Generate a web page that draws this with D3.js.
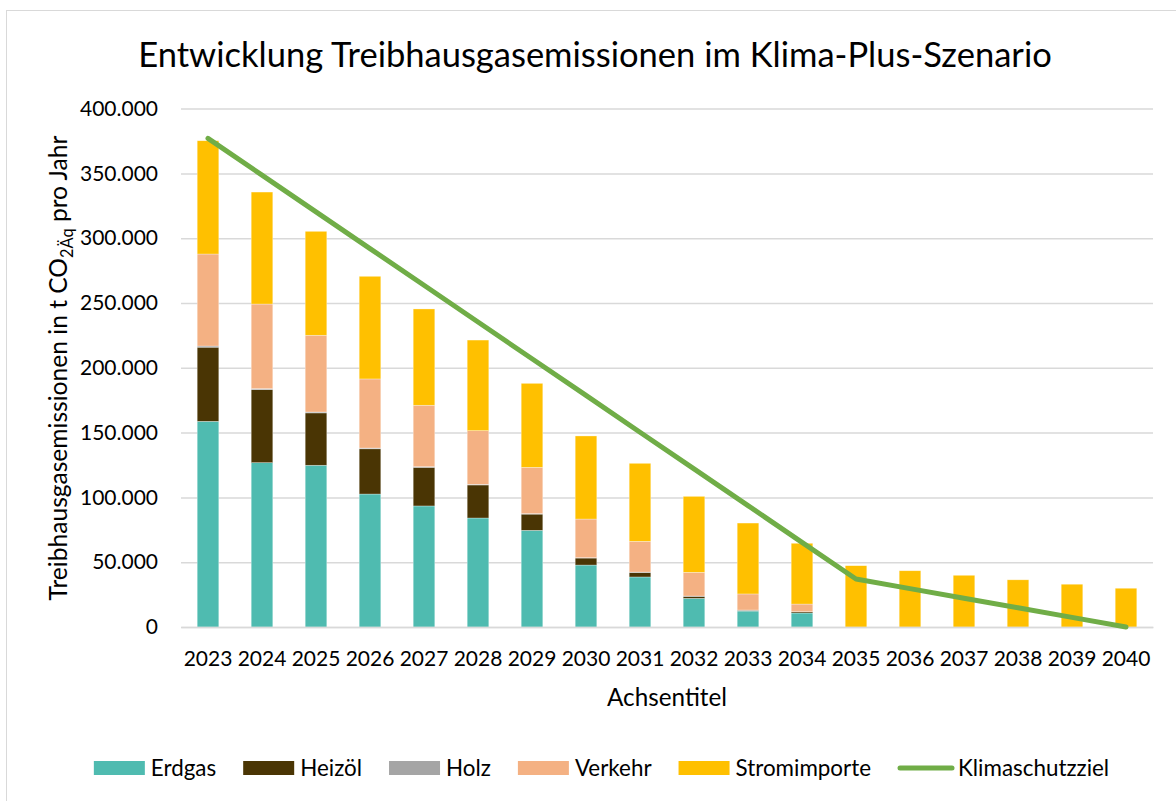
<!DOCTYPE html>
<html>
<head>
<meta charset="utf-8">
<script src="https://cdn.jsdelivr.net/npm/d3@7"></script>
<style>
  html, body { margin: 0; padding: 0; background: #fff; }
  svg { display: block; }
  text { font-family: Lato, "Open Sans", sans-serif; fill: #000; }
</style>
</head>
<body>
<svg id="chart" width="1176" height="801"></svg>
<script>
const years = ["2023","2024","2025","2026","2027","2028","2029","2030","2031","2032","2033","2034","2035","2036","2037","2038","2039","2040"];
const erdgas        = [158700,126800,124800,102600,93400,84100,74600,47800,38600,22100,12300,10800,0,0,0,0,0,0];
const heizoel       = [57200,56300,40400,34900,29800,25500,12500,5400,3500,1600,600,900,0,0,0,0,0,0];
const holz          = [900,800,700,600,500,500,400,300,300,200,200,100,0,0,0,0,0,0];
const verkehr       = [71000,65300,59200,53300,47400,41400,35700,29800,23700,18300,12400,5900,0,0,0,0,0,0];
const stromimporte  = [87400,86400,80200,79200,74300,69900,64800,64100,60200,58600,54700,46900,47300,43400,39900,36400,33000,29900];
const klimaschutzziel = [377000,348700,320300,292000,263700,235300,207000,178700,150300,122000,93700,65300,37000,29600,22200,14800,7400,0];
const yTicks = [0,50000,100000,150000,200000,250000,300000,350000,400000];
const seriesNames = ["Erdgas","Heizöl","Holz","Verkehr","Stromimporte"];
const seriesColors = ["#4fbbb0","#4a3504","#a5a5a5","#f4b183","#ffc000"];
const lineName = "Klimaschutzziel";
const lineColor = "#70ad47";
const titleText = "Entwicklung Treibhausgasemissionen im Klima-Plus-Szenario";
const xTitleText = "Achsentitel";

const svg = d3.select("#chart");
const plot = {left: 181, right: 1153, top: 108.6, bottom: 627};

function fitWidth(sel, base, target) {
  sel.attr("font-size", base);
  const w = sel.node().getComputedTextLength();
  sel.attr("font-size", base * target / w);
}

// frame
svg.append("rect").attr("x", 6.5).attr("y", 10.5).attr("width", 1200).attr("height", 900)
  .attr("fill", "#fff").attr("stroke", "#d9d9d9").attr("stroke-width", 1);

const x = d3.scaleBand().domain(years).range([plot.left, plot.right]).paddingInner(0.6).paddingOuter(0.3);
const y = d3.scaleLinear().domain([0, 400000]).range([plot.bottom, plot.top]);

const de = d3.formatLocale({decimal: ",", thousands: ".", grouping: [3], currency: ["", " €"]});
const fmt = de.format(",d");

// y axis with gridlines
const yAxis = svg.append("g").attr("transform", `translate(${plot.left},0)`)
  .call(d3.axisLeft(y).tickValues(yTicks).tickFormat(fmt).tickSizeInner(-(plot.right - plot.left)).tickSizeOuter(0).tickPadding(23));
yAxis.select(".domain").remove();
yAxis.selectAll(".tick line").attr("stroke", "#d9d9d9").attr("stroke-width", 1.5);
yAxis.selectAll(".tick text").attr("font-size", 21).attr("font-family", "Lato").attr("fill", "#000");

// stacked bars
const table = years.map((yr, i) => ({year: yr, Erdgas: erdgas[i], "Heizöl": heizoel[i], Holz: holz[i], Verkehr: verkehr[i], Stromimporte: stromimporte[i]}));
const stack = d3.stack().keys(seriesNames)(table);
svg.append("g").selectAll("g").data(stack).join("g")
  .attr("fill", (d, i) => seriesColors[i])
  .selectAll("rect").data(d => d).join("rect")
  .attr("x", d => x(d.data.year))
  .attr("width", x.bandwidth())
  .attr("y", d => y(d[1]))
  .attr("height", d => Math.max(0, y(d[0]) - y(d[1])))
  .attr("stroke", "#ffffff").attr("stroke-opacity", 0.5).attr("stroke-width", 0.6);

// x axis
const xAxis = svg.append("g").attr("transform", `translate(0,${plot.bottom})`)
  .call(d3.axisBottom(x).tickSize(0).tickPadding(24));
xAxis.select(".domain").attr("stroke", "#d9d9d9").attr("stroke-width", 1.5);
xAxis.selectAll(".tick text").attr("font-size", 21).attr("font-family", "Lato").attr("fill", "#000");

// line
const line = d3.line().x((d, i) => x(years[i]) + x.bandwidth() / 2).y(d => y(d));
svg.append("path").datum(klimaschutzziel)
  .attr("d", line).attr("fill", "none").attr("stroke", lineColor)
  .attr("stroke-width", 5).attr("stroke-linecap", "round").attr("stroke-linejoin", "round");

// title
const title = svg.append("text").attr("x", 595).attr("y", 67).attr("text-anchor", "middle").text(titleText);
fitWidth(title, 34, 914);

// x axis title
const xt = svg.append("text").attr("x", 667).attr("y", 706).attr("text-anchor", "middle").text(xTitleText);
fitWidth(xt, 21, 120);

// y axis title
const yt = svg.append("text").attr("transform", "translate(67,368) rotate(-90)")
  .attr("text-anchor", "middle").attr("font-size", 24);
yt.append("tspan").text("Treibhausgasemissionen in t CO");
yt.append("tspan").attr("font-size", 16).attr("dy", 6).text("2Äq");
yt.append("tspan").attr("dy", -6).text(" pro Jahr");
{
  const w = yt.node().getComputedTextLength();
  const s = 465 / w;
  yt.attr("font-size", 24 * s);
  yt.selectAll("tspan").filter((d, i) => i === 1).attr("font-size", 16 * s);
}

// legend
const legendItems = seriesNames.map((n, i) => ({name: n, color: seriesColors[i], type: "rect"}))
  .concat([{name: lineName, color: lineColor, type: "line"}]);
const lg = svg.append("g");
let cx = 0;
const swW = 51, gapSwText = 6, gapItem = 27, legY = 768, legFs = 22.4;
legendItems.forEach(it => {
  const g = lg.append("g").attr("transform", `translate(${cx},0)`);
  const extra = it.type === "line" ? 3 : 0;
  if (it.type === "rect") {
    g.append("rect").attr("x", 0).attr("y", legY - 7).attr("width", swW).attr("height", 14).attr("fill", it.color);
  } else {
    g.append("line").attr("x1", 2).attr("x2", swW + 3).attr("y1", legY).attr("y2", legY)
      .attr("stroke", it.color).attr("stroke-width", 5).attr("stroke-linecap", "round");
  }
  const t = g.append("text").attr("x", swW + gapSwText + extra).attr("y", legY).attr("dy", "0.35em")
    .attr("font-size", legFs).text(it.name);
  cx += swW + gapSwText + extra + t.node().getComputedTextLength() + gapItem;
});
const totalW = cx - gapItem;
lg.attr("transform", `translate(${(93 + 1110) / 2 - totalW / 2},0)`);
</script>
</body>
</html>
